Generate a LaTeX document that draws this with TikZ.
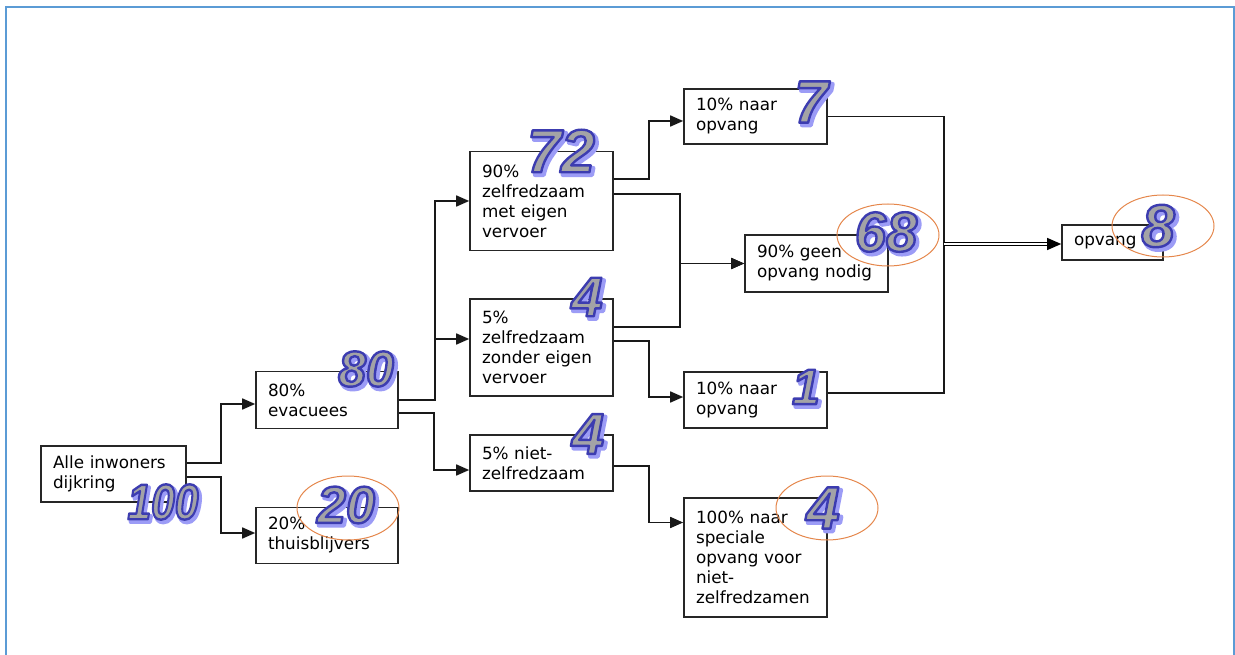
\documentclass[tikz,border=0pt]{standalone}
\usepackage{fontspec}
\usepackage{graphicx}
\usetikzlibrary{arrows.meta,calc}
\setmainfont{DejaVu Sans}
\newfontfamily\numfont{Liberation Sans}

\definecolor{framecol}{HTML}{5B9BD5}
\definecolor{numfill}{HTML}{A3A3A6}
\definecolor{numline}{HTML}{3C3CB0}
\definecolor{numshadow}{HTML}{9C9CF6}
\definecolor{ringcol}{HTML}{E5874C}

% glyphs drawn filled and stroked (text render mode 2)
\newcommand\strokedtext[3]{%
  \special{pdf:literal direct #1 RG #2 w 1 j 2 Tr}#3\special{pdf:literal direct 0 Tr}}
% grey number with a blue outline and a soft blue shadow
\newcommand\numfx[1]{%
  \rlap{\smash{\kern2.6pt\raisebox{-2.6pt}{\color{numshadow}%
    \strokedtext{0.612 0.612 0.965}{4.2}{#1}}}}%
  {\color{numfill}\strokedtext{0.235 0.235 0.69}{2.4}{#1}}}

\tikzset{
  box/.style={draw=black!85, line width=1.6pt, fill=white, align=left,
    inner xsep=12pt, inner ysep=0pt,
    font=\fontsize{16.8}{20}\selectfont},
  conn/.style={line width=1.6pt, draw=black!90,
    -{Triangle[length=13pt,width=11pt]}},
  plain/.style={line width=1.6pt, draw=black!90},
  bignum/.style={inner sep=0pt, font=\numfont\bfseries\itshape\fontsize{#1}{#1}\selectfont},
  ring/.style={draw=ringcol, line width=1pt},
}

\begin{document}
\begin{tikzpicture}[x=1pt, y=-1pt]
\useasboundingbox (0,0) rectangle (1235,655);

% frame
\draw[framecol, line width=2.5pt] (6,656) -- (6,7) -- (1234,7) -- (1234,656);

% boxes
\node[box, text width=121pt, minimum height=56pt] (A) at (113.5,474) {Alle inwoners\\dijkring};
\node[box, text width=118pt, minimum height=57pt] (B) at (327,400) {80\%\\evacuees};
\node[box, text width=118pt, minimum height=56pt] (C) at (327,535.5) {20\%\\thuisblijvers};
\node[box, text width=119pt, minimum height=99pt] (D) at (541.5,201) {90\%\\zelfredzaam\\met eigen\\vervoer};
\node[box, text width=119pt, minimum height=97pt] (E) at (541.5,347.5) {5\%\\zelfredzaam\\zonder eigen\\vervoer};
\node[box, text width=119pt, minimum height=56pt] (F) at (541.5,463) {5\% niet-\\zelfredzaam};
\node[box, text width=119pt, minimum height=55pt] (G) at (755.5,116.5) {10\% naar\\opvang};
\node[box, text width=119pt, minimum height=57pt] (H) at (816.5,263.5) {90\% geen\\opvang nodig};
\node[box, text width=119pt, minimum height=56pt] (I) at (755.5,400) {10\% naar\\opvang};
\node[box, text width=119pt, minimum height=119pt] (J) at (755.5,557.5) {100\% naar\\speciale\\opvang voor\\niet-\\zelfredzamen};
\node[box, text width=77pt, minimum height=35pt] (K) at (1112.5,242.5) {opvang};

% connectors
\draw[conn] ($(A.east)+(0,-11)$) -- ++(34,0) |- ($(B.west)+(0,4)$);
\draw[conn] ($(A.east)+(0,3)$) -- ++(34,0) |- ($(C.west)+(0,-2.5)$);
\draw[conn] (B.east) -- ++(36,0) |- (D.west);
\draw[conn] (B.east) -- ++(36,0) |- ($(E.west)+(0,-8.5)$);
\draw[conn] ($(B.east)+(0,13)$) -- ++(35,0) |- ($(F.west)+(0,7)$);
\draw[conn] ($(D.east)+(0,-22)$) -- ++(35,0) |- ($(G.west)+(0,4.5)$);
\draw[conn] ($(D.east)+(0,-7)$) -- ++(66,0) |- (H.west);
\draw[conn] ($(E.east)+(0,-20.5)$) -- ++(66,0) |- (H.west);
\draw[conn] ($(E.east)+(0,-6.5)$) -- ++(35,0) |- ($(I.west)+(0,-3)$);
\draw[conn] ($(F.east)+(0,3)$) -- ++(35,0) |- ($(J.west)+(0,-35)$);
\coordinate (mrg) at (944,244);
\draw[plain] (G.east) -| (mrg);
\draw[plain] ($(I.east)+(0,-7)$) -| (mrg);
\draw[line width=1.1pt, double, double distance=2pt,
  -{Triangle[length=14pt,width=12pt]}] (mrg) -- (mrg -| K.west);

% rings round some of the numbers
\draw[ring] (348,508) ellipse [x radius=51, y radius=32];
\draw[ring] (888,235) ellipse [x radius=51, y radius=31];
\draw[ring] (1163,226) ellipse [x radius=51, y radius=31];
\draw[ring] (827,508) ellipse [x radius=51, y radius=32];

% counts
\node[bignum=50] (n100) at (163,502) {\scalebox{0.85}[1]{\numfx{100}}};
\node[bignum=50] (n80) at (366,369) {\numfx{80}};
\node[bignum=52] (n20) at (346,505) {\numfx{20}};
\node[bignum=61] (n72) at (561,151) {\numfx{72}};
\node[bignum=56] (n4e) at (587,297) {\numfx{4}};
\node[bignum=58] (n4f) at (588,434) {\numfx{4}};
\node[bignum=60] (n7) at (811,102) {\numfx{7}};
\node[bignum=56] (n68) at (886,232) {\numfx{68}};
\node[bignum=60] (n8) at (1158,226) {\numfx{8}};
\node[bignum=50] (n1) at (806,387) {\numfx{1}};
\node[bignum=60] (n4j) at (823,508) {\numfx{4}};
\end{tikzpicture}
\end{document}
